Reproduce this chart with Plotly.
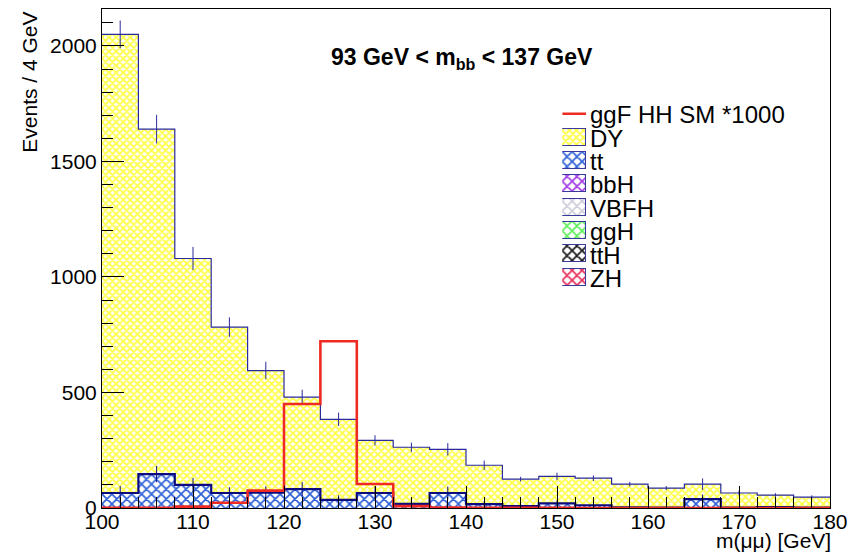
import numpy as np
import plotly.graph_objects as go

# m(mumu) binning: 4 GeV bins from 100 to 180 GeV
bin_edges = list(range(100, 184, 4))

# stacked background total (DY + tt + single Higgs) per bin
total_bkg = [2050, 1640, 1080, 783, 595, 480, 384, 293, 263, 254,
             185, 125, 137, 129, 103, 86, 103, 65, 56, 47]
total_err = [60, 62, 50, 42, 38, 32, 29, 22, 20, 27,
             20, 10, 16, 12, 10, 9, 25, 10, 8, 8]

# ttbar contribution
tt_vals = [65, 147, 100, 65, 66, 82, 35, 65, 18, 65,
           17, 8, 20, 12, 3, 2, 38, 2, 4, 2]
tt_err = [30, 35, 30, 25, 28, 30, 20, 28, 15, 28,
          12, 8, 12, 8, 4, 3, 20, 3, 5, 3]

# single-Higgs processes (negligible in this window)
bbh_vals = [0, 0, 0, 0, 0, 0.02, 0.05, 0.01, 0, 0, 0, 0, 0, 0, 0, 0, 0, 0, 0, 0]
vbfh_vals = [0, 0, 0, 0, 0, 0.05, 0.12, 0.02, 0, 0, 0, 0, 0, 0, 0, 0, 0, 0, 0, 0]
ggh_vals = [0, 0, 0, 0, 0.01, 0.3, 0.9, 0.1, 0, 0, 0, 0, 0, 0, 0, 0, 0, 0, 0, 0]
tth_vals = [0, 0, 0, 0, 0, 0.01, 0.02, 0, 0, 0, 0, 0, 0, 0, 0, 0, 0, 0, 0, 0]
zh_vals = [0, 0, 0, 0, 0, 0.01, 0.03, 0.01, 0, 0, 0, 0, 0, 0, 0, 0, 0, 0, 0, 0]

# ggF HH signal scaled by 1000
sig_vals = [0.5, 1, 6, 23, 75, 450, 722, 104, 8, 2,
            1, 0.5, 0.5, 0.3, 0.2, 0.2, 0.1, 0.1, 0.1, 0.1]

legend_names = ["ggF HH SM *1000", "DY", "tt", "bbH", "VBFH", "ggH", "ttH", "ZH"]

x_ticks = list(range(100, 190, 10))
y_ticks = [0, 500, 1000, 1500, 2000]

FONT = "Liberation Sans, Arial, Helvetica, sans-serif"

edges = np.array(bin_edges, dtype=float)
centers = 0.5 * (edges[:-1] + edges[1:])
widths = np.diff(edges)

higgs = np.array(bbh_vals) + np.array(vbfh_vals) + np.array(ggh_vals) + \
    np.array(tth_vals) + np.array(zh_vals)
dy_vals = np.array(total_bkg) - np.array(tt_vals) - higgs

styles = {
    "DY": dict(fg="#ffff4a", size=5, sol=0.6),
    "tt": dict(fg="#2f62d8", size=7, sol=0.42),
    "bbH": dict(fg="#a23be6", size=7, sol=0.42),
    "VBFH": dict(fg="#cfcfdc", size=7, sol=0.42),
    "ggH": dict(fg="#5ef05a", size=7, sol=0.42),
    "ttH": dict(fg="#1a1a1a", size=7, sol=0.42),
    "ZH": dict(fg="#e8305a", size=7, sol=0.42),
}


def patt(name):
    s = styles[name]
    return dict(shape="x", fgcolor=s["fg"], bgcolor="white",
                size=s["size"], solidity=s["sol"], fillmode="replace")


fig = go.Figure()

# stacked filled histograms (tt at the bottom, DY on top)
stack = [("tt", tt_vals), ("bbH", bbh_vals), ("VBFH", vbfh_vals),
         ("ggH", ggh_vals), ("ttH", tth_vals), ("ZH", zh_vals), ("DY", dy_vals)]
for name, vals in stack:
    fig.add_trace(go.Bar(
        x=centers, y=vals, width=widths, name=name,
        marker=dict(color=styles[name]["fg"], pattern=patt(name),
                    line=dict(width=0)),
        showlegend=False, hoverinfo="skip"))


def step(vals):
    return list(edges), list(vals) + [vals[-1]]


# outline of the full stack
sx, sy = step(list(total_bkg))
fig.add_trace(go.Scatter(x=sx, y=sy, mode="lines", line_shape="hv",
                         line=dict(color="#2a2aa0", width=1.2),
                         showlegend=False, hoverinfo="skip"))
# outline of the tt component
sx, sy = step(list(tt_vals))
fig.add_trace(go.Scatter(x=sx, y=sy, mode="lines", line_shape="hv",
                         line=dict(color="#0c0c80", width=2.2),
                         showlegend=False, hoverinfo="skip"))

# statistical uncertainties
fig.add_trace(go.Scatter(x=centers, y=tt_vals, mode="lines",
                         line=dict(width=0, color="#0c0c80"),
                         error_y=dict(type="data", array=tt_err, width=0,
                                      thickness=1, color="#0c0c80"),
                         showlegend=False, hoverinfo="skip"))
fig.add_trace(go.Scatter(x=centers, y=total_bkg, mode="lines",
                         line=dict(width=0, color="#2a2aa0"),
                         error_y=dict(type="data", array=total_err, width=0,
                                      thickness=1, color="#2a2aa0"),
                         showlegend=False, hoverinfo="skip"))

# signal
sx, sy = step(list(sig_vals))
fig.add_trace(go.Scatter(x=sx, y=sy, mode="lines", line_shape="hv",
                         line=dict(color="#ee2a22", width=2.6),
                         showlegend=False, hoverinfo="skip"))

# ---- legend box drawn on its own small axes ----
key_range = [0, 1]
n_rows = len(legend_names)
fig.add_trace(go.Scatter(x=key_range, y=[0, 0], mode="lines",
                         line=dict(color="#ee2a22", width=2.6),
                         xaxis="x2", yaxis="y2", showlegend=False,
                         hoverinfo="skip"))
for i, name in enumerate(legend_names[1:], start=1):
    fig.add_trace(go.Bar(
        x=[key_range[1]], y=[i], orientation="h", width=0.73,
        marker=dict(color=styles[name]["fg"], pattern=patt(name),
                    line=dict(color="#3a3a9c", width=1.2)),
        xaxis="x2", yaxis="y2", showlegend=False, hoverinfo="skip"))

annotations = []
for i, name in enumerate(legend_names):
    annotations.append(dict(
        text=name, xref="x2", yref="y2", x=key_range[1], y=i,
        xanchor="left", yanchor="middle", xshift=2, yshift=-1,
        showarrow=False, font=dict(family=FONT, size=24, color="black")))

annotations.append(dict(
    text="<b>93 GeV < m<sub>bb</sub> < 137 GeV</b>",
    xref="paper", yref="paper", x=0.495, y=0.90,
    xanchor="center", yanchor="middle", showarrow=False,
    font=dict(family=FONT, size=23, color="black")))
annotations.append(dict(
    text="Events / 4 GeV", xref="paper", yref="paper",
    x=-0.1, y=0.998, xanchor="center", yanchor="top", textangle=-90,
    showarrow=False, font=dict(family=FONT, size=21, color="black")))
annotations.append(dict(
    text="m(\u03bc\u03bc) [GeV]", xref="paper", yref="paper",
    x=1.0, y=-0.066, xanchor="right", yanchor="middle", xshift=3,
    showarrow=False, font=dict(family=FONT, size=21, color="black")))

axis_common = dict(
    showline=True, linecolor="black", linewidth=1, mirror=True,
    ticks="inside", ticklen=22, tickwidth=1, tickcolor="black",
    showgrid=False, zeroline=False, layer="above traces",
    tickfont=dict(family=FONT, size=21, color="black"),
)

fig.update_layout(
    width=856, height=557,
    margin=dict(l=102, r=20, t=8, b=49),
    paper_bgcolor="white", plot_bgcolor="white",
    barmode="stack", bargap=0,
    showlegend=False,
    xaxis=dict(range=[edges[0], edges[-1]], tickvals=x_ticks,
               ticklabelstandoff=-5,
               minor=dict(dtick=2, ticks="inside", ticklen=11,
                          tickcolor="black", tickwidth=1),
               **axis_common),
    yaxis=dict(range=[0, 2160], tickvals=y_ticks,
               minor=dict(dtick=100, ticks="inside", ticklen=11,
                          tickcolor="black", tickwidth=1),
               **axis_common),
    xaxis2=dict(domain=[0.6322, 0.6649], range=key_range, anchor="y2",
                visible=False, fixedrange=True),
    yaxis2=dict(domain=[0.4386, 0.8134], range=[n_rows - 0.5, -0.5],
                anchor="x2", visible=False, fixedrange=True),
    annotations=annotations,
)

fig.write_html("out.html")
